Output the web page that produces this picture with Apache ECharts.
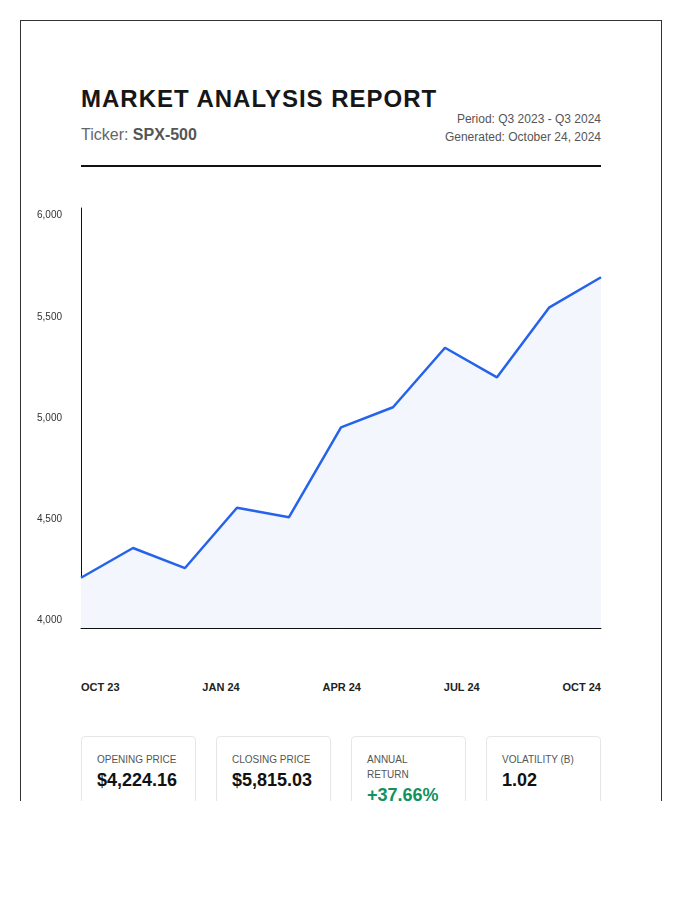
<!DOCTYPE html>
<html>
<head>
<meta charset="utf-8">
<title>Market Analysis Report</title>
<script src="https://cdn.jsdelivr.net/npm/echarts@6/dist/echarts.min.js"></script>
<style>
    body { margin: 0; background: #fff; font-family: "Liberation Sans", Arial, sans-serif; }
    .clip { position: absolute; left: 0; top: 0; width: 700px; height: 801px; overflow: hidden; }
    .card { position: absolute; left: 20px; top: 20px; width: 640px; height: 900px; border: 1px solid #333; background: #fff; }
    .abs { position: absolute; }
    .title { left: 60px; top: 64px; font-size: 24px; line-height: 28px; font-weight: bold; letter-spacing: 1px; color: #161616; white-space: nowrap; }
    .ticker { left: 60px; top: 104px; font-size: 16px; line-height: 20px; color: #666; }
    .ticker b { color: #555; }
    .meta { right: 60px; top: 89px; font-size: 12px; line-height: 18px; color: #555; text-align: right; }
    .rule { left: 60px; top: 144px; width: 520px; height: 2px; background: #111; }
    #chart { left: 0; top: 169px; width: 640px; height: 460px; }
    .xlabels { left: 60px; top: 659px; width: 520px; display: flex; justify-content: space-between; font-size: 11px; line-height: 14px; font-weight: bold; color: #222; }
    .stats { left: 60px; top: 715px; width: 520px; display: flex; justify-content: space-between; }
    .stat { width: 115px; box-sizing: border-box; border: 1px solid #e6e6e6; border-radius: 4px; padding: 15px; height: 120px; }
    .stat .lbl { font-size: 10px; line-height: 15px; color: #555; text-transform: uppercase; }
    .stat .val { font-size: 18px; line-height: 22px; font-weight: bold; color: #111; margin-top: 2px; }
    .stat .val.up { color: #13915f; }
</style>
</head>
<body>
<div class="clip">
    <div class="card">
        <div class="abs title">MARKET ANALYSIS REPORT</div>
        <div class="abs ticker">Ticker: <b>SPX-500</b></div>
        <div class="abs meta">Period: Q3 2023 - Q3 2024<br>Generated: October 24, 2024</div>
        <div class="abs rule"></div>
        <div class="abs" id="chart"></div>
        <div class="abs xlabels" id="xlabels"></div>
        <div class="abs stats" id="stats"></div>
    </div>
</div>
<script>
// Price data (11 points, Oct 23 -> Oct 24)
const periods = ['Oct 23', 'Nov 23', 'Dec 23', 'Jan 24', 'Feb 24', 'Mar 24', 'Apr 24', 'May 24', 'Jun 24', 'Jul 24', 'Oct 24'];
const prices = [4212, 4359, 4260, 4558, 4511, 4955, 5054, 5348, 5202, 5546, 5696];

// Axis labels
const yTicks = [4000, 4500, 5000, 5500, 6000];
const xTickLabels = ['OCT 23', 'JAN 24', 'APR 24', 'JUL 24', 'OCT 24'];

// Summary figures
const statLabels = ['Opening Price', 'Closing Price', 'Annual Return', 'Volatility (B)'];
const statValues = ['$4,224.16', '$5,815.03', '+37.66%', '1.02'];

document.addEventListener('DOMContentLoaded', function() {
    initChart();
    initXLabels();
    initStats();
});

function initChart() {
    const chart = echarts.init(document.getElementById('chart'));

    chart.setOption({
        animation: false,
        grid: { left: 60, right: 60, top: 18, bottom: 22 },
        xAxis: {
            type: 'category',
            data: periods,
            boundaryGap: false,
            axisLine: { lineStyle: { color: '#111', width: 1 } },
            axisTick: { show: false },
            axisLabel: { show: false },
            splitLine: { show: false }
        },
        yAxis: {
            type: 'value',
            min: 3964,
            max: 6038,
            axisLine: { show: true, lineStyle: { color: '#111', width: 1 } },
            axisTick: { show: false },
            splitLine: { show: false },
            axisLabel: {
                customValues: yTicks,
                margin: 19,
                fontSize: 10,
                color: '#333',
                fontFamily: 'Liberation Sans',
                padding: [2, 0, 0, 0],
                formatter: function(v) { return v.toLocaleString('en-US'); }
            }
        },
        series: [{
            type: 'line',
            data: prices,
            symbol: 'none',
            lineStyle: { color: '#2563eb', width: 2.5 },
            areaStyle: { color: '#f3f6fd', opacity: 1 }
        }]
    });
}

function initXLabels() {
    const row = document.getElementById('xlabels');
    xTickLabels.forEach(t => {
        const span = document.createElement('span');
        span.textContent = t;
        row.appendChild(span);
    });
}

function initStats() {
    const wrap = document.getElementById('stats');
    statLabels.forEach((label, i) => {
        const box = document.createElement('div');
        box.className = 'stat';
        const up = statValues[i].startsWith('+') ? ' up' : '';
        box.innerHTML = `<div class="lbl">${label}</div><div class="val${up}">${statValues[i]}</div>`;
        wrap.appendChild(box);
    });
}
</script>
</body>
</html>
